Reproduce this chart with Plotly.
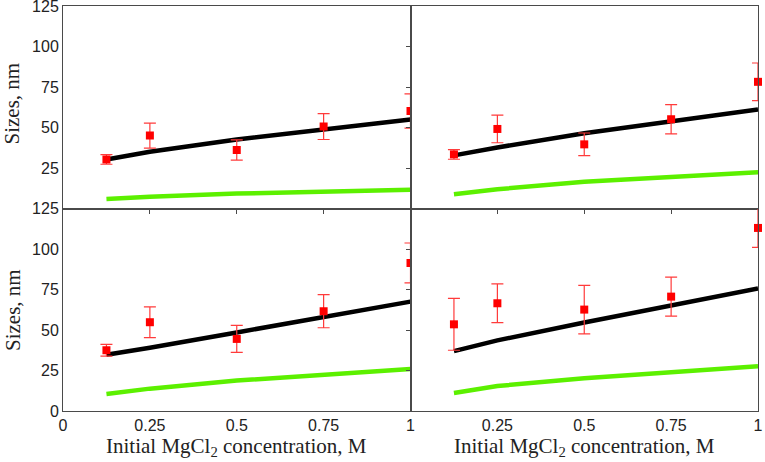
import plotly.graph_objects as go
from plotly.subplots import make_subplots

x_conc = [0.125, 0.25, 0.5, 0.75, 1.0]

# Experimental points (mean, error) per panel: TL, TR, BL, BR
exp_tl = [30.3, 45.0, 36.1, 50.6, 60.2]
err_tl = [3.0, 7.7, 6.3, 8.0, 10.6]
exp_tr = [33.4, 49.1, 39.6, 55.1, 78.2]
err_tr = [3.0, 8.5, 7.0, 9.0, 11.6]
exp_bl = [37.5, 54.8, 44.5, 61.6, 91.4]
err_bl = [3.6, 9.5, 8.3, 10.2, 12.3]
exp_br = [53.5, 66.5, 62.6, 70.6, 113.0]
err_br = [16.0, 12.0, 15.0, 12.0, 12.0]

# Model curves (black: larger size, green: smaller size)
black_tl = [30.3, 35.0, 42.6, 49.0, 55.0]
black_tr = [32.8, 37.7, 46.4, 53.8, 61.2]
black_bl = [34.7, 39.0, 48.5, 58.2, 67.5]
black_br = [37.0, 43.6, 54.6, 64.8, 75.7]
green_tl = [5.8, 7.2, 9.2, 10.4, 11.5]
green_tr = [8.8, 11.9, 16.5, 19.6, 22.3]
green_bl = [10.5, 13.8, 18.8, 22.7, 25.9]
green_br = [11.1, 15.4, 20.2, 24.1, 27.6]

y_ticks_top = [25, 50, 75, 100, 125]
y_ticks_bottom = [0, 25, 50, 75, 100, 125]
x_ticks_left = [0, 0.25, 0.5, 0.75, 1]
x_ticks_right = [0.25, 0.5, 0.75, 1]
x_tick_text_left = ["0", "0.25", "0.5", "0.75", "1"]
x_tick_text_right = ["0.25", "0.5", "0.75", "1"]
x_title = "Initial MgCl<sub>2</sub> concentration, M"
y_title = "Sizes, nm"

fig = make_subplots(rows=2, cols=2, horizontal_spacing=0, vertical_spacing=0)

panels = [
    (1, 1, exp_tl, err_tl, black_tl, green_tl, True),
    (1, 2, exp_tr, err_tr, black_tr, green_tr, False),
    (2, 1, exp_bl, err_bl, black_bl, green_bl, True),
    (2, 2, exp_br, err_br, black_br, green_br, False),
]

for r, c, ex, er, bk, gr, clip in panels:
    fig.add_trace(go.Scatter(x=x_conc, y=gr, mode="lines",
                             line=dict(color="#5cf000", width=4.5),
                             showlegend=False), row=r, col=c)
    fig.add_trace(go.Scatter(x=x_conc, y=bk, mode="lines",
                             line=dict(color="black", width=4.5),
                             showlegend=False), row=r, col=c)
    fig.add_trace(go.Scatter(x=x_conc, y=ex, mode="markers",
                             marker=dict(symbol="square", size=8, color="#ff0000"),
                             error_y=dict(type="data", array=er, color="#ff3b3b",
                                          thickness=1.2, width=6),
                             cliponaxis=clip, showlegend=False), row=r, col=c)

tick_font = dict(family="Liberation Sans, Arial, sans-serif", size=16, color="#222")
axis_common = dict(showline=True, linecolor="#4a4a4a", linewidth=1, mirror=True,
                   showgrid=False, zeroline=False, tickfont=tick_font,
                   tickcolor="#4a4a4a", ticklen=4, tickwidth=1, automargin=False,
                   ticklabeloverflow="allow")

for r in (1, 2):
    for c in (1, 2):
        if r == 1:
            fig.update_xaxes(range=[0, 1], tickvals=[0.25, 0.5, 0.75],
                             showticklabels=False, ticks="outside",
                             **axis_common, row=r, col=c)
        else:
            fig.update_xaxes(range=[0, 1],
                             tickvals=x_ticks_left if c == 1 else x_ticks_right,
                             ticktext=x_tick_text_left if c == 1 else x_tick_text_right,
                             ticks="", showticklabels=True,
                             **axis_common, row=r, col=c)
        if c == 1:
            fig.update_yaxes(range=[0, 125],
                             tickvals=y_ticks_top if r == 1 else y_ticks_bottom,
                             ticks="", showticklabels=True,
                             **axis_common, row=r, col=c)
        else:
            fig.update_yaxes(range=[0, 125], tickvals=[25, 50, 75, 100],
                             ticks="outside", showticklabels=False,
                             **axis_common, row=r, col=c)

title_font = dict(family="Liberation Serif, Times New Roman, serif", size=21, color="#222")
annotations = [
    dict(text=x_title, x=0.25, y=-0.09, xref="paper", yref="paper",
         showarrow=False, font=title_font, xanchor="center", yanchor="middle"),
    dict(text=x_title, x=0.75, y=-0.09, xref="paper", yref="paper",
         showarrow=False, font=title_font, xanchor="center", yanchor="middle"),
    dict(text=y_title, x=-0.073, y=0.76, xref="paper", yref="paper", textangle=-90,
         showarrow=False, font=title_font, xanchor="center", yanchor="middle"),
    dict(text=y_title, x=-0.073, y=0.25, xref="paper", yref="paper", textangle=-90,
         showarrow=False, font=title_font, xanchor="center", yanchor="middle"),
]

fig.update_layout(width=765, height=462,
                  margin=dict(l=63, r=7, t=6, b=51, autoexpand=False),
                  plot_bgcolor="white", paper_bgcolor="white",
                  annotations=annotations, showlegend=False)

fig.write_html("out.html", config={"displayModeBar": False},
               post_script="document.body.style.margin='0';document.body.style.overflow='hidden';")
